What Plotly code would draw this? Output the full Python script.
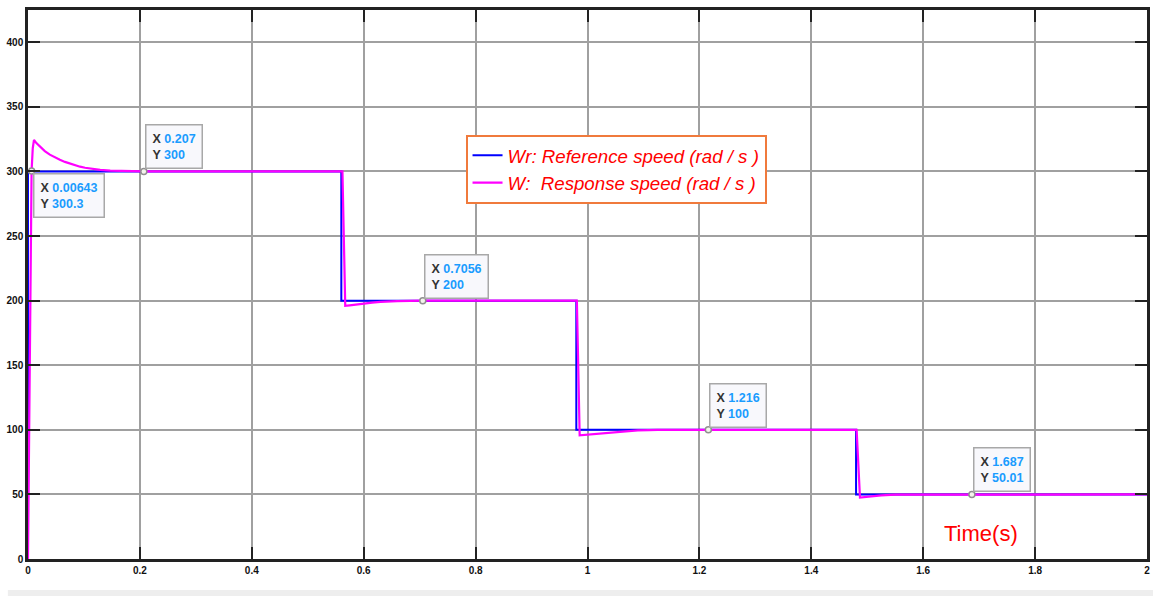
import plotly.graph_objects as go

# Reference speed (step profile)
ref_t = [0.0, 0.0, 0.56, 0.56, 0.98, 0.98, 1.48, 1.48, 2.0]
ref_w = [0.0, 300, 300, 200, 200, 100, 100, 50, 50]

# Response speed
resp_t = [0.0, 0.003, 0.0064, 0.0085, 0.0107, 0.015, 0.0215, 0.03, 0.039, 0.048, 0.057, 0.066,
          0.075, 0.084, 0.093, 0.102, 0.111, 0.12, 0.129, 0.147, 0.165, 0.185, 0.207, 0.562,
          0.567, 0.575, 0.585, 0.6, 0.615, 0.63, 0.645, 0.66, 0.7056, 0.981, 0.986, 0.995, 1.01,
          1.03, 1.05, 1.07, 1.09, 1.11, 1.125, 1.216, 1.481, 1.487, 1.495, 1.51, 1.525, 1.55,
          1.687, 2.0]
resp_w = [0.0, 150, 300.3, 318, 324.5, 322, 319, 315.8, 313, 310.9, 309, 307.4,
          306, 304.8, 303.7, 302.9, 302.2, 301.6, 301.2, 300.6, 300.3, 300.1, 300, 300,
          196, 196.4, 197, 197.8, 198.5, 199, 199.4, 199.7, 200, 200, 95.7, 96, 96.7,
          97.6, 98.4, 99.0, 99.5, 99.8, 100, 100, 100, 47.5, 47.9, 48.6, 49.2, 49.8,
          50.01, 50]

# Data tips
tip_x = [0.00643, 0.207, 0.7056, 1.216, 1.687]
tip_y = [300.3, 300, 200, 100, 50.01]
tip_xlab = ["0.00643", "0.207", "0.7056", "1.216", "1.687"]
tip_ylab = ["300.3", "300", "200", "100", "50.01"]
tip_below = [True, False, False, False, False]

x_ticks = [0, 0.2, 0.4, 0.6, 0.8, 1, 1.2, 1.4, 1.6, 1.8, 2]
x_ticklabels = ["0", "0.2", "0.4", "0.6", "0.8", "1", "1.2", "1.4", "1.6", "1.8", "2"]
y_ticks = [0, 50, 100, 150, 200, 250, 300, 350, 400]

fig = go.Figure()
fig.add_trace(go.Scatter(x=ref_t, y=ref_w, mode="lines",
                         line=dict(color="#0000ff", width=2),
                         name="<i>Wr: Reference speed (rad / s )</i>"))
fig.add_trace(go.Scatter(x=resp_t, y=resp_w, mode="lines",
                         line=dict(color="#ff00ff", width=2.2),
                         name="<i>W:  Response speed (rad / s )</i>"))
fig.add_trace(go.Scatter(x=tip_x, y=tip_y, mode="markers", showlegend=False,
                         marker=dict(size=6, color="#f4f4ec",
                                     line=dict(color="#909090", width=1.5))))

blue = "#1a9cff"
for x, y, xl, yl, below in zip(tip_x, tip_y, tip_xlab, tip_ylab, tip_below):
    fig.add_annotation(
        x=x, y=y, xref="x", yref="y", showarrow=False,
        text=f"X <span style='color:{blue}'>{xl}</span><br>Y <span style='color:{blue}'>{yl}</span>",
        align="left", xanchor="left", yanchor="top" if below else "bottom",
        xshift=1, yshift=-2 if below else 2,
        font=dict(family="Liberation Sans, Arial", size=12.5, color="#333333", weight="bold"),
        bgcolor="#f8f8fc", bordercolor="#a8a8a8", borderwidth=1.5, borderpad=6,
    )

fig.add_annotation(x=1.703, y=20, xref="x", yref="y", showarrow=False,
                   text="Time(s)", font=dict(family="Liberation Sans, Arial", size=22, color="#ff0000"))

# light strip at bottom of the image
fig.add_shape(type="rect", xref="paper", yref="paper", x0=-0.018, x1=1.01, y0=-0.075, y1=-0.0565,
              fillcolor="#eeeeee", line=dict(width=0), layer="below")

axis_common = dict(showgrid=True, gridcolor="#a0a0a0", gridwidth=1.5,
                   showline=True, linecolor="#222222", linewidth=2.5, mirror="allticks",
                   ticks="inside", ticklen=12, tickwidth=2, tickcolor="#222222",
                   zeroline=False,
                   tickfont=dict(family="Liberation Sans, Arial", size=10, color="#111111", weight="bold"))

fig.update_xaxes(range=[0, 2], tickvals=x_ticks, ticktext=x_ticklabels, **axis_common)
fig.update_yaxes(range=[0, 425], tickvals=y_ticks, **axis_common)

fig.update_layout(
    width=1153, height=596,
    margin=dict(l=28, r=3, t=10, b=37),
    paper_bgcolor="#ffffff", plot_bgcolor="#ffffff",
    legend=dict(x=0.391, y=0.773, xanchor="left", yanchor="top",
                bgcolor="#ffffff", bordercolor="#f07a3c", borderwidth=2,
                font=dict(family="Liberation Sans, Arial", size=18.7, color="#ff0000"),
                tracegroupgap=0, itemwidth=30),
    showlegend=True,
)

fig.write_html("out.html")
